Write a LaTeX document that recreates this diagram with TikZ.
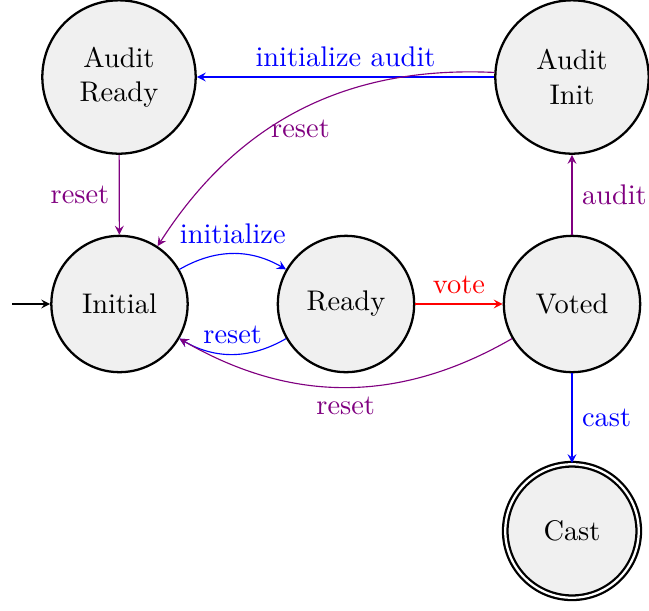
\documentclass[tikz,border=0pt]{standalone}
\usetikzlibrary{arrows}
\definecolor{mypurple}{RGB}{128,0,128}
\begin{document}
\begin{tikzpicture}[x=0.3521pt,y=0.3521pt, >=stealth,
  state/.style={circle,draw,thick,fill=black!6,minimum size=48pt,inner sep=0pt,align=center},
  final/.style={double,double distance=0.8pt}]
\useasboundingbox (0,0) rectangle (649,-610);
\node[state, minimum size=54pt] (ar) at (119,-77) {Audit\\Ready};
\node[state, minimum size=54pt] (ai) at (572,-77) {Audit\\Init};
\node[state] (ini) at (119.5,-304) {Initial};
\node[state] (rdy) at (346,-304) {Ready};
\node[state] (vot) at (572,-304) {Voted};
\node[state, final, minimum size=47pt] (cast) at (572,-531) {Cast};
\coordinate (s) at (12,-304);
\draw[->] (s) -- (ini);
\draw[->, mypurple] (ar) -- node[left] {reset} (ini);
\draw[->, blue] (ai) -- node[above] {initialize audit} (ar);
\draw[->, mypurple] (ai) to[bend right=30] node[below] {reset} (ini);
\draw[->, blue] (ini) to[bend left=30] node[above] {initialize} (rdy);
\draw[->, blue] (rdy) to[bend left=30] node[above] {reset} (ini);
\draw[->, red] (rdy) -- node[above] {vote} (vot);
\draw[->, mypurple] (vot) -- node[right] {audit} (ai);
\draw[->, mypurple] (vot) to[bend left=30] node[below] {reset} (ini);
\draw[->, blue] (vot) -- node[right] {cast} (cast);
\end{tikzpicture}
\end{document}
